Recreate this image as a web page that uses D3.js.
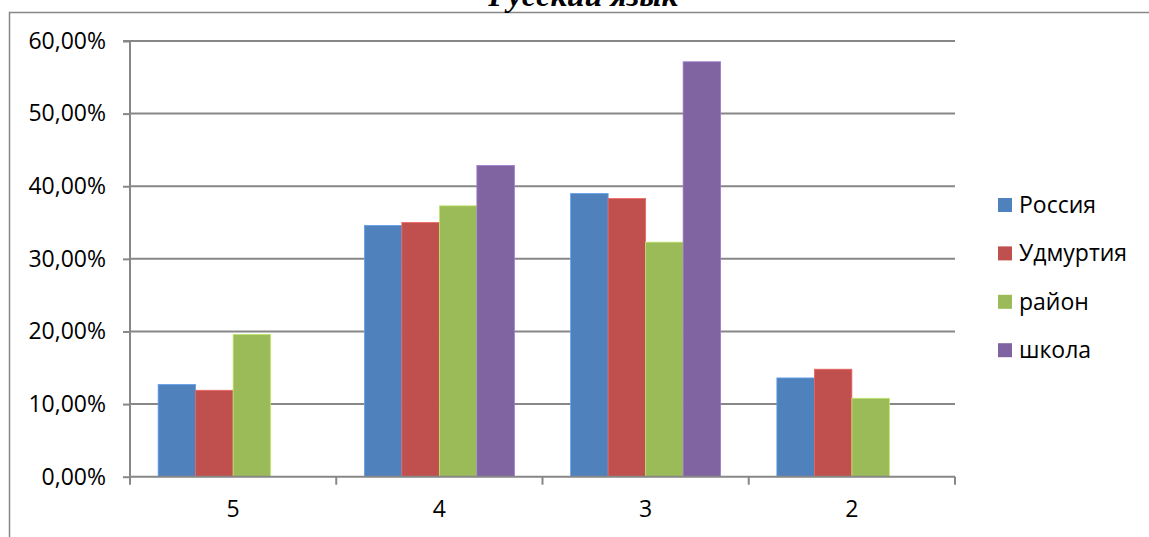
<!DOCTYPE html>
<html><head><meta charset="utf-8">
<script src="https://cdn.jsdelivr.net/npm/d3@7/dist/d3.min.js"></script>
<style>
html,body{margin:0;padding:0;background:#fff;overflow:hidden;}
svg{display:block;}
</style></head>
<body>
<svg id="chart" width="1149" height="537"></svg>
<script>
const categories = ["5", "4", "3", "2"];
const seriesNames = ["Россия", "Удмуртия", "район", "школа"];
const russia   = [12.7, 34.6, 39.0, 13.6];
const udmurtia = [11.9, 35.0, 38.3, 14.8];
const rayon    = [19.6, 37.3, 32.3, 10.8];
const school   = [0, 42.86, 57.14, 0];
const yTicks = [0, 10, 20, 30, 40, 50, 60];
const colors = ["#4f81bd", "#c0504d", "#9bbb59", "#8064a2"];
const title = "Русский язык";

const seriesValues = [russia, udmurtia, rayon, school];
const svg = d3.select("#chart");
const font = "'Open Sans', sans-serif";
const fs = 23;
const axisColor = "#878787";

// outer border
svg.append("path").attr("d", "M9.5,540V12.5H1160")
  .attr("fill", "none").attr("stroke", axisColor).attr("stroke-width", 1.5);

// title
svg.append("text").attr("x", 583).attr("y", 6).attr("text-anchor", "middle")
  .attr("font-family", "'Liberation Serif', serif").attr("font-weight", "bold")
  .attr("font-style", "italic").attr("font-size", 32).text(title);

const pLeft = 130, pRight = 955, pTop = 41, pBottom = 476.7;
const x = d3.scaleBand().domain(categories).range([pLeft, pRight]);
const y = d3.scaleLinear().domain([0, 60]).range([pBottom, pTop]);

// gridlines
svg.append("g").selectAll("line").data(yTicks.filter(d => d > 0)).join("line")
  .attr("x1", pLeft).attr("x2", pRight).attr("y1", d => y(d)).attr("y2", d => y(d))
  .attr("stroke", axisColor).attr("stroke-width", 2);

// bars
const gap = 1.5;
const bw = x.bandwidth() / (seriesNames.length + gap);
const xs = d3.scaleBand().domain(seriesNames).range([0, bw * seriesNames.length]);
const groups = svg.append("g").selectAll("g").data(categories).join("g")
  .attr("transform", c => `translate(${x(c) + bw * gap / 2},0)`);
groups.selectAll("rect").data((c, i) => seriesNames.map((s, j) => ({s, j, v: seriesValues[j][i]})))
  .join("rect")
  .attr("x", d => xs(d.s)).attr("width", xs.bandwidth())
  .attr("y", d => y(d.v)).attr("height", d => y(0) - y(d.v))
  .attr("fill", d => colors[d.j])
  .attr("stroke", d => d3.color(colors[d.j]).brighter(0.6)).attr("stroke-width", d => d.v > 0 ? 0.8 : 0);

// y axis
const yAxis = d3.axisLeft(y).tickValues(yTicks).tickSize(7).tickPadding(17)
  .tickFormat(d => d.toFixed(2).replace(".", ",") + "%");
const yg = svg.append("g").attr("transform", `translate(${pLeft},0)`).call(yAxis);
yg.select(".domain").attr("stroke", axisColor).attr("stroke-width", 2).attr("d", `M-7,${pTop}H0V${pBottom}`);
yg.selectAll(".tick line").attr("stroke", axisColor).attr("stroke-width", 2);
yg.selectAll(".tick text").attr("font-family", font).attr("font-size", fs).attr("fill", "#000");

// x axis
const xAxis = d3.axisBottom(x).tickSize(0).tickPadding(24);
const xg = svg.append("g").attr("transform", `translate(0,${pBottom})`).call(xAxis);
xg.select(".domain").attr("stroke", axisColor).attr("stroke-width", 2).attr("d", `M${pLeft},0H${pRight}`);
xg.selectAll(".tick text").attr("font-family", font).attr("font-size", fs).attr("fill", "#000");
// category boundary ticks
svg.append("g").selectAll("line").data(d3.range(categories.length + 1)).join("line")
  .attr("x1", i => pLeft + i * x.bandwidth()).attr("x2", i => pLeft + i * x.bandwidth())
  .attr("y1", pBottom).attr("y2", pBottom + 8)
  .attr("stroke", axisColor).attr("stroke-width", 2);

// legend
const lg = svg.append("g").selectAll("g").data(seriesNames).join("g")
  .attr("transform", (d, i) => `translate(998,${205 + i * 48.4})`);
lg.append("rect").attr("x", 0).attr("y", -7).attr("width", 14).attr("height", 14)
  .attr("fill", (d, i) => colors[i]);
lg.append("text").attr("x", 21).attr("y", 0).attr("dy", "0.35em")
  .attr("font-family", font).attr("font-size", fs).attr("fill", "#000").text(d => d);
</script>
</body></html>
